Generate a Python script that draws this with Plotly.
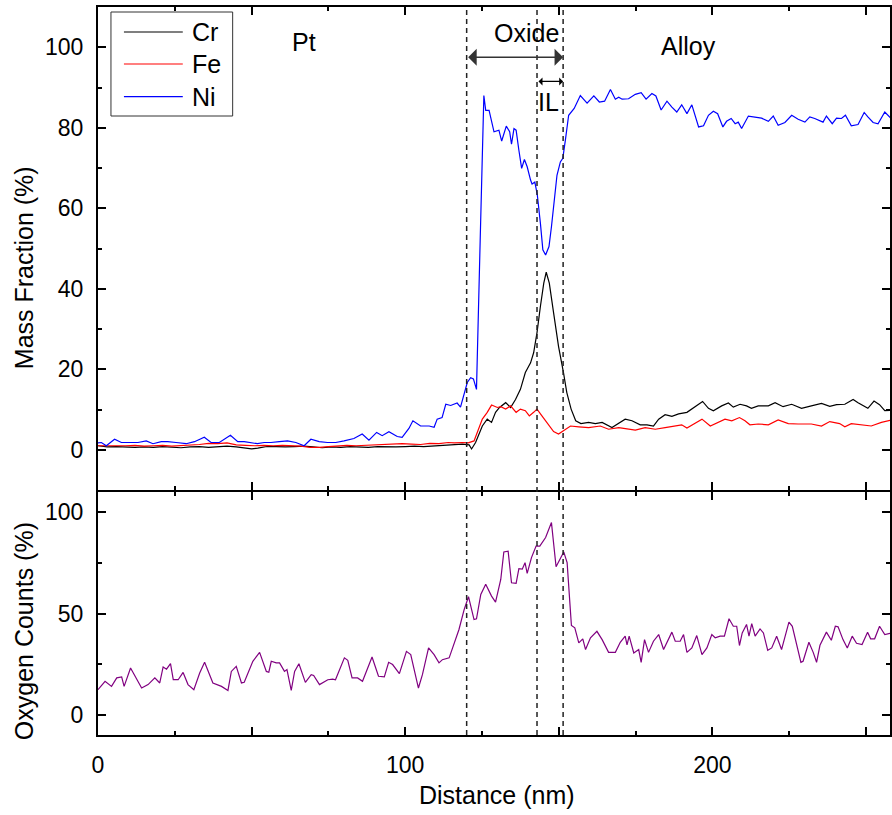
import plotly.graph_objects as go

# ---------------- data ----------------
x_ni = [0, 1.1, 2.7, 5.4, 7.6, 10.3, 13, 15.7, 17.9, 20.6, 22.7, 25.4, 28.7, 31.4, 34.6, 36.8, 39.5,
        43.1, 45.5, 47.6, 49.8, 51.9, 54.1, 56.3, 59, 61.7, 64.4, 67.1, 69.3, 72, 74.7, 77.4, 80.1,
        83.3, 86, 88.2, 90.7, 92.5, 94.7, 97.4, 99, 101.2, 102.5, 105, 107.8, 109.4, 110.4, 112,
        113.2, 114.8, 116.9, 118, 120.2, 121.3, 122.2, 123.2, 124.4, 125.6, 126.2, 127.3, 128.9,
        130.5, 131.4, 132.9, 134, 134.6, 135.4, 136.1, 137, 137.9, 138.8, 139.7, 140.8, 141.3,
        142.2, 143, 144, 144.8, 145.7, 146.8, 147.6, 148.7, 149.4, 150.5, 151.3, 152.2, 153.2,
        155.0, 157, 159.2, 161.4, 163.2, 164.9, 166.8, 168.4, 169.5, 170.6, 172.7, 174.9, 176.8,
        178.4, 180.3, 181.6, 183.3, 185.2, 186.8, 188.4, 190, 191.7, 193.3, 195.5, 197.1, 198.7,
        200.3, 201.7, 203.4, 204.6, 206.1, 207.4, 208.4, 209.5, 211.7, 213.9, 216, 218.2, 219.8,
        221.4, 223.6, 225.8, 227.9, 230.1, 231.7, 233.3, 235, 236, 237.1, 239, 240.4, 242, 243.3,
        245.2, 247.4, 249.4, 250.6, 252.3, 253.9, 256.1, 258.5]
ni = [1.7, 1.8, 1.0, 2.6, 1.8, 1.8, 1.8, 2.2, 1.5, 2.0, 2.0, 1.8, 1.5, 2.0, 3.1, 1.8, 1.8,
      3.6, 2.0, 2.0, 1.8, 1.5, 1.8, 1.8, 2.0, 2.2, 1.8, 1.0, 2.6, 2.0, 1.8, 1.8, 2.2,
      2.8, 3.9, 2.4, 4.3, 3.5, 4.5, 3.3, 3.1, 5.3, 7.2, 5.9, 5.9, 5.6, 7.6, 8.0,
      11.3, 11.0, 11.6, 10.6, 16.7, 17.9, 17.6, 15.0, 52.0, 88.0, 84.3, 84.3, 79.0,
      79.4, 76.7, 80.4, 79.0, 75.9, 79.8, 79.4, 74.4, 69.9, 72.1, 70.3, 67.0, 66.0,
      66.5, 63.3, 56.3, 49.7, 48.4, 50.5, 55.4, 63.7, 68.2, 71.5, 72.4, 77.3, 83.1,
      84.8, 88.0, 86.1, 87.9, 86.4, 86.6, 89.5, 87.1, 87.6, 87.1, 87.2, 88.3, 88.7,
      87.1, 88.5, 87.9, 84.4, 86.6, 85.1, 83.9, 85.7, 83.5, 85.7, 80.2, 80.5, 83.1,
      84.1, 83.5, 80.2, 81.6, 82.3, 81.0, 81.4, 79.8, 82.9, 82.7, 82.4, 81.6, 82.9,
      80.6, 81.3, 83.1, 82.1, 81.4, 82.7, 82.3, 81.6, 81.4, 82.9, 81.0, 82.4, 82.3, 83.1,
      80.5, 80.8, 83.8, 82.7, 81.3, 81.0, 83.9, 82.0]

x_cr = [0, 3, 6, 9, 12, 15, 18, 21, 24, 27, 30, 33, 36, 39, 42, 45, 48, 50, 52, 55, 58, 61, 64,
        67, 70, 73, 76, 79, 82, 85, 88, 91, 94, 97, 100, 103, 106, 109, 112, 115, 118.6, 120.8,
        121.6, 122.9, 125.1, 126.7, 128.1, 129.4, 130.7, 132.7, 134.3, 135.9, 137.5, 139.1,
        140.8, 141.8, 142.9, 144, 145.1, 145.9, 146.9, 148.3, 149.9, 151.5, 152.6, 154, 155.5,
        157.2, 159.7, 161.9, 164.1, 167.3, 169.5, 171.6, 173.8, 176.5, 178.7, 180.8, 182.5,
        184.6, 186.8, 189, 191.7, 194.4, 196.8, 198.7, 200.3, 203, 205.2, 206.8, 209, 211.1,
        212.7, 214.9, 218.2, 220.4, 223, 225.8, 229, 232.2, 235.5, 238.2, 240.4, 243.1, 245.8,
        247.4, 250.6, 252.6, 254.4, 256.1, 258.5]
cr = [1.0, 0.7, 0.8, 0.7, 0.6, 0.7, 0.6, 0.8, 0.7, 0.5, 0.7, 0.8, 0.6, 0.8, 0.9, 0.7, 0.4, 0.2, 0.4,
      0.8, 0.8, 0.7, 0.8, 0.9, 0.7, 0.5, 0.7, 0.6, 0.8, 0.7, 0.6, 0.8, 0.7, 0.7, 0.8, 0.9, 0.8,
      0.9, 1.0, 1.1, 1.4, 1.2, 0.2, 1.8, 5.9, 7.6, 6.8, 9.3, 10.5, 11.7, 10.5, 12.5, 15.0, 19.2,
      21.6, 24.1, 29.1, 35.6, 41.4, 44.1, 41.4, 34.0, 25.7, 19.2, 14.2, 10.1, 7.2,
      6.5, 6.8, 6.5, 6.8, 5.5, 6.5, 7.6, 7.2, 6.2, 6.2, 5.9, 7.6,
      8.7, 8.3, 8.9, 9.3, 10.7, 12.0, 10.3, 9.7, 10.9, 11.6, 10.6, 11.3, 10.9,
      10.3, 10.9, 10.9, 11.7, 10.7, 11.3, 10.3, 10.9, 11.5, 10.8, 11.2, 11.3, 12.5,
      11.7, 10.3, 12.1, 11.2, 9.7, 9.8]

x_fe = [0, 3, 6, 9, 12, 15, 18, 21, 24, 27, 30, 33, 36, 39, 42, 45, 48, 51, 54, 57, 60, 63, 66,
        69, 72, 75, 78, 81, 84, 87, 90, 93, 96, 99, 102, 105, 108, 111, 114, 116, 118.6, 120.5,
        122.4, 125.1, 126.7, 128.1, 130, 131.1, 132.7, 134.3, 136.1, 137.5, 139.1, 140.4, 141.8,
        142.9, 144.5, 146.6, 148.3, 149.9, 151.5, 152.2, 153.8, 156.5, 159.7, 163.5, 166.2,
        169.5, 174.9, 178.1, 181.4, 184.6, 187.3, 190, 191.7, 193.8, 196.6, 199.3, 202, 204.1,
        206.3, 208.8, 210.6, 212.2, 214.9, 218.2, 221.4, 224.7, 227.9, 232.2, 235.5, 238.2,
        241.4, 243.1, 245.2, 248.5, 251.7, 255, 258.5]
fe = [1.0, 1.0, 0.9, 1.0, 1.1, 0.9, 1.0, 1.1, 0.9, 1.0, 1.1, 1.3, 1.6, 1.5, 1.7, 1.2, 1.1, 1.0,
      1.1, 1.0, 1.1, 1.0, 0.9, 0.6, 0.6, 0.8, 1.0, 1.1, 1.0, 1.1, 1.2, 1.3, 1.4, 1.5, 1.4, 1.3,
      1.6, 1.5, 1.8, 1.7, 1.8, 1.7, 2.2, 7.6, 9.3, 11.1, 10.5, 10.7, 10.1, 10.9, 9.3, 10.1, 9.7,
      8.4, 9.3, 10.1, 8.4, 6.4, 4.5, 3.9, 4.7, 5.1, 5.9, 5.7, 5.5, 5.9, 5.1,
      5.5, 4.9, 5.5, 5.1, 5.5, 5.9, 6.2, 5.4, 6.4, 7.6, 5.9, 6.8, 7.6,
      7.2, 8.0, 7.2, 6.2, 6.4, 6.2, 7.4, 6.5, 6.4, 6.4, 5.9, 7.0,
      6.5, 5.7, 6.5, 6.2, 5.9, 6.8, 7.4]

x_o = [0, 2.3, 4.4, 6.1, 7.7, 8.5, 10.6, 12.6, 14.2, 16.3, 18.5, 20.1, 21.2, 22.3, 23.6, 24.5,
       26.1, 27.7, 29.3, 31.2, 33.1, 34.7, 37.4, 40.2, 42.3, 43.4, 45, 46.7, 47.6, 50.4, 52.6,
       54.8, 55.6, 56.4, 58, 59.1, 60.7, 61.5, 62.9, 64, 65.4, 67.5, 69.4, 70.2, 72.1, 74.8,
       76.4, 77.3, 80.2, 81.3, 82.7, 84.5, 86.1, 89.2, 91.3, 93.2, 94.6, 95.9, 98.1, 100.4,
       101.8, 104.3, 105.6, 107.6, 109.4, 111, 112.1, 114.3, 115.9, 117.5, 119.2, 120.6, 122.4,
       123.2, 124.6, 126.2, 128.1, 129.4, 131.1, 132.1, 133.5, 134.6, 136.1, 137, 138.1, 139,
       139.7, 141.1, 142.6, 143.8, 145.7, 147.6, 149.1, 150.5, 151.6, 152.7, 154.1, 155.2,
       156.5, 157.8, 158.7, 160.3, 162.4, 164.1, 166.2, 168.4, 170, 171.6, 172.2, 172.9, 174.4,
       176, 176.8, 177.9, 179.2, 180.8, 182.5, 184.1, 186.8, 187.9, 189.5, 190.6, 191.7, 193.3,
       194.9, 196.6, 198.2, 199.8, 200.9, 202.5, 203.9, 205.4, 206.8, 207.9, 208.8, 209.7,
       211.1, 211.9, 212.8, 213.9, 215.5, 216.6, 218, 219.3, 220.9, 222.5, 224.9, 226, 227.4,
       228.8, 229.5, 231.4, 232.8, 233.9, 235, 237.1, 238.7, 240, 240.9, 242.5, 243.9, 245.5,
       246.9, 248.7, 250.5, 251.5, 252.8, 254.4, 256.1, 258.5]
oxy = [12.4, 16.5, 14.0, 18.2, 18.7, 14.0, 23.1, 17.3, 13.2, 14.9, 18.2, 15.7, 23.6, 22.5, 25.2, 17.3,
       17.3, 20.9, 14.9, 12.4, 20.6, 25.9, 15.7, 14.0, 12.0, 21.4, 23.9, 15.7, 16.0, 26.4, 30.8,
       21.4, 21.0, 26.4, 25.6, 25.6, 21.4, 22.3, 12.0, 21.4, 25.2, 16.0, 19.8, 19.4, 14.9, 17.3,
       17.6, 17.3, 28.1, 26.9, 18.2, 18.2, 16.5, 28.5, 19.0, 18.7, 25.9, 24.8, 20.3, 31.3,
       29.7, 13.2, 19.8, 33.0, 29.7, 25.6, 27.2, 28.1, 34.7, 42.1, 52.0, 58.3, 47.0,
       47.4, 59.4, 64.4, 58.6, 55.6, 66.8, 80.4, 80.8, 65.2, 64.9, 72.1, 71.9, 75.1,
       69.8, 77.6, 83.3, 83.3, 87.5, 94.9, 73.1, 77.6, 80.4, 75.1, 44.1, 42.9,
       35.5, 37.5, 32.2, 38.0, 41.2, 37.1, 30.8, 30.8, 35.8, 38.8, 34.5, 38.8, 30.5,
       32.2, 25.9, 37.1, 30.8, 36.3, 39.6, 32.2, 40.8, 36.3, 36.3, 39.6, 30.8, 33.0,
       39.1, 29.7, 33.0, 39.6, 38.0, 38.8, 38.8, 47.4, 43.7, 43.7, 34.2, 40.4,
       44.6, 38.8, 45.0, 38.8, 42.4, 40.4, 31.8, 33.0, 38.8, 32.2, 45.7, 43.7, 35.5,
       25.9, 26.4, 35.8, 30.8, 25.9, 34.3, 40.8, 36.8, 43.7, 43.4, 37.1, 33.0, 38.8,
       35.3, 34.7, 40.8, 37.5, 37.5, 43.7, 39.6, 40.4]

# layer boundaries (nm)
boundaries = [120.0, 142.9, 151.4]
x_ticks = [0, 50, 100, 150, 200, 250]
x_ticktext = ["0", "", "100", "", "200", ""]
x_minor = [25, 75, 125, 175, 225]

# ---------------- layout helpers ----------------
W, H = 892, 815
L, R, T, B = 98, 0, 7, 80
PW, PH = W - L - R, H - T - B
bot_top = (735 - 492) / PH     # top edge of lower panel
top_bot = (735 - 490) / PH     # bottom edge of upper panel
FONT = "Liberation Sans, Arial, Helvetica, sans-serif"


def pp(xp, yp):
    """pixel -> paper coordinates"""
    return (xp - L) / PW, (H - B - yp) / PH


fig = go.Figure()
fig.add_trace(go.Scatter(x=x_cr, y=cr, mode="lines", name="Cr", line=dict(color="black", width=1.2),
                         xaxis="x2", yaxis="y2", showlegend=False))
fig.add_trace(go.Scatter(x=x_fe, y=fe, mode="lines", name="Fe", line=dict(color="#ff0000", width=1.2),
                         xaxis="x2", yaxis="y2", showlegend=False))
fig.add_trace(go.Scatter(x=x_ni, y=ni, mode="lines", name="Ni", line=dict(color="#0000ff", width=1.2),
                         xaxis="x2", yaxis="y2", showlegend=False))
fig.add_trace(go.Scatter(x=x_o, y=oxy, mode="lines", name="O", line=dict(color="#800080", width=1.2),
                         xaxis="x", yaxis="y", showlegend=False))

common = dict(showline=True, linecolor="black", linewidth=2, mirror="ticks", ticks="inside",
              tickcolor="black", tickwidth=2, ticklen=8, showgrid=False, zeroline=False,
              tickfont=dict(size=23, color="black", family=FONT))
minor_common = dict(ticks="inside", ticklen=4, tickcolor="black", tickwidth=2, showgrid=False)

fig.update_layout(
    width=W, height=H, margin=dict(l=L, r=R, t=T, b=B),
    paper_bgcolor="white", plot_bgcolor="white", showlegend=False,
    font=dict(family=FONT, color="black"),
    xaxis=dict(domain=[0, 1], anchor="y", range=[0, 257.8], tickmode="array", tickvals=x_ticks,
               ticktext=x_ticktext, ticklabelstandoff=8,
               minor=dict(tickmode="array", tickvals=x_minor, **minor_common), **common),
    xaxis2=dict(domain=[0, 1], anchor="y2", matches="x", range=[0, 257.8], tickmode="array",
                tickvals=x_ticks, showticklabels=False,
                minor=dict(tickmode="array", tickvals=x_minor, **minor_common), **common),
    yaxis=dict(domain=[0, bot_top], anchor="x", range=[-10, 110], tickmode="array", tickvals=[0, 50, 100],
               ticklabelstandoff=8,
               minor=dict(tickmode="array", tickvals=[25, 75], **minor_common), **common),
    yaxis2=dict(domain=[top_bot, 1], anchor="x2", range=[-10, 110], tickmode="array",
                tickvals=[0, 20, 40, 60, 80, 100], ticklabelstandoff=8,
                minor=dict(tickmode="array", tickvals=[10, 30, 50, 70, 90], **minor_common), **common),
)

# dashed boundary lines through both panels
for xb in boundaries:
    fig.add_shape(type="line", xref="x", yref="paper", x0=xb, x1=xb, y0=0, y1=1,
                  line=dict(color="#222222", width=1.5, dash="5px,4px"))

# arrows
fig.add_annotation(x=boundaries[2], y=97.5, ax=boundaries[0], ay=97.5, xref="x2", yref="y2",
                   axref="x2", ayref="y2", text="", showarrow=True, arrowside="end+start",
                   arrowhead=1, arrowsize=1.9, arrowwidth=1.5, arrowcolor="#333333", standoff=0,
                   startstandoff=0)
fig.add_annotation(x=boundaries[2], y=91.5, ax=boundaries[1], ay=91.5, xref="x2", yref="y2",
                   axref="x2", ayref="y2", text="", showarrow=True, arrowside="end+start",
                   arrowhead=1, arrowsize=1.1, arrowwidth=1.2, arrowcolor="black", standoff=0,
                   startstandoff=0)

# region labels
labels = [("Pt", 305, 42), ("Oxide", 528, 33), ("Alloy", 689.5, 46), ("IL", 550, 102)]
for txt, xp, yp in labels:
    xx, yy = pp(xp, yp)
    fig.add_annotation(x=xx, y=yy, xref="paper", yref="paper", text=txt, showarrow=False,
                       xanchor="center", yanchor="middle", font=dict(size=25, color="black", family=FONT))

# axis titles
for txt, xp, yp, ang in [("Mass Fraction (%)", 24, 268, -90), ("Oxygen Counts (%)", 24, 631, -90),
                         ("Distance (nm)", 498, 795, 0)]:
    xx, yy = pp(xp, yp)
    fig.add_annotation(x=xx, y=yy, xref="paper", yref="paper", text=txt, showarrow=False, textangle=ang,
                       xanchor="center", yanchor="middle", font=dict(size=25, color="black", family=FONT))

# legend box
x0, y0 = pp(111, 12)
x1, y1 = pp(233, 116)
fig.add_shape(type="rect", xref="paper", yref="paper", x0=x0, y0=y1, x1=x1, y1=y0,
              line=dict(color="#333333", width=1), fillcolor="white", layer="above")
for name, color, yp in [("Cr", "black", 32), ("Fe", "#ff0000", 64), ("Ni", "#0000ff", 96.7)]:
    a, b = pp(124, yp)
    c, _ = pp(183, yp)
    fig.add_shape(type="line", xref="paper", yref="paper", x0=a, x1=c, y0=b, y1=b,
                  line=dict(color=color, width=1.2), layer="above")
    tx, ty = pp(190, yp)
    fig.add_annotation(x=tx, y=ty, xref="paper", yref="paper", text=name, showarrow=False,
                       xanchor="left", yanchor="middle", font=dict(size=25, color="black", family=FONT))

fig.write_html("out.html")
